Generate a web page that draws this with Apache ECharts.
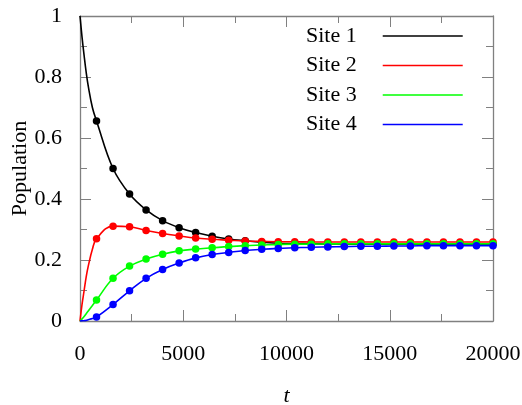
<!DOCTYPE html>
<html>
<head>
<meta charset="utf-8">
<script src="https://cdn.jsdelivr.net/npm/echarts@6/dist/echarts.min.js"></script>
<style>html,body{margin:0;padding:0;background:#fff;}#c{width:522px;height:405px;}</style>
</head>
<body>
<div id="c"></div>
<script>
// Early (unmarked) curve points
const tEarly = [0, 100, 200, 300, 400, 600];
const site1Early = [1, 0.93, 0.87, 0.815, 0.77, 0.70];
const site2Early = [0, 0.055, 0.10, 0.145, 0.18, 0.235];
const site3Early = [0, 0.007, 0.015, 0.024, 0.033, 0.051];
const site4Early = [0, 0.0005, 0.001, 0.002, 0.004, 0.008];

// Marked points
const tMarks = [800, 1600, 2400, 3200, 4000, 4800, 5600, 6400, 7200, 8000, 8800, 9600, 10400,
  11200, 12000, 12800, 13600, 14400, 15200, 16000, 16800, 17600, 18400, 19200, 20000];
const site1Marks = [0.656, 0.500, 0.416, 0.364, 0.329, 0.306, 0.290, 0.278, 0.269, 0.263, 0.258, 0.255, 0.254,
  0.253, 0.253, 0.252, 0.252, 0.252, 0.252, 0.252, 0.252, 0.252, 0.252, 0.252, 0.252];
const site2Marks = [0.270, 0.311, 0.309, 0.297, 0.287, 0.279, 0.272, 0.268, 0.265, 0.262, 0.261, 0.260, 0.260,
  0.259, 0.259, 0.259, 0.259, 0.259, 0.259, 0.259, 0.259, 0.259, 0.259, 0.259, 0.259];
const site3Marks = [0.069, 0.140, 0.180, 0.203, 0.219, 0.230, 0.236, 0.240, 0.244, 0.247, 0.249, 0.251, 0.252,
  0.252, 0.253, 0.253, 0.253, 0.253, 0.253, 0.253, 0.253, 0.253, 0.253, 0.253, 0.253];
const site4Marks = [0.013, 0.054, 0.099, 0.140, 0.169, 0.190, 0.207, 0.218, 0.225, 0.231, 0.235, 0.238, 0.240,
  0.242, 0.243, 0.244, 0.245, 0.245, 0.246, 0.246, 0.247, 0.247, 0.247, 0.247, 0.247];

const names = ['Site 1', 'Site 2', 'Site 3', 'Site 4'];
const colors = ['#000000', '#ff0000', '#00ff00', '#0000ff'];
const xTicks = [0, 5000, 10000, 15000, 20000];
const yTicks = [0, 0.2, 0.4, 0.6, 0.8, 1];

const early = [site1Early, site2Early, site3Early, site4Early];
const marks = [site1Marks, site2Marks, site3Marks, site4Marks];

const FONT = 'Liberation Serif';
const AX = '#808080';

function buildData(e, m) {
  const d = [];
  tEarly.forEach((t, i) => d.push({ value: [t, e[i]], symbol: 'none' }));
  tMarks.forEach((t, i) => d.push({ value: [t, m[i]], symbol: 'circle' }));
  return d;
}

const series = names.map((n, k) => ({
  name: n,
  type: 'line',
  smooth: 0.4,
  symbol: 'none',
  symbolSize: 7.5,
  showAllSymbol: true,
  color: colors[k],
  lineStyle: { width: 1.6, color: colors[k] },
  itemStyle: { color: colors[k] },
  data: buildData(early[k], marks[k]),
  z: 2 + k
}));

const commonTick = { show: true, inside: true, length: 11, lineStyle: { color: AX, width: 1 } };
const commonMinor = { show: true, splitNumber: 2, length: 7, lineStyle: { color: AX, width: 1 } };
const commonLine = { show: true, onZero: false, lineStyle: { color: AX, width: 1.3 } };

const chart = echarts.init(document.getElementById('c'), null, { renderer: 'canvas' });
chart.setOption({
  animation: false,
  backgroundColor: '#ffffff',
  grid: { left: 80, right: 29, top: 16, bottom: 84, containLabel: false, outerBoundsMode: 'none' },
  legend: {
    left: 306,
    top: 25,
    padding: 0,
    orient: 'vertical',
    align: 'right',
    icon: 'rect',
    itemWidth: 80,
    itemHeight: 1.6,
    itemGap: 7.5,
    textStyle: { fontFamily: FONT, fontSize: 22, lineHeight: 22, color: '#000', padding: [0, 21, 0, 0] },
    data: names
  },
  xAxis: [{
    type: 'value', min: xTicks[0], max: xTicks[xTicks.length - 1], interval: xTicks[1] - xTicks[0],
    position: 'bottom',
    axisLine: commonLine, axisTick: commonTick, minorTick: commonMinor,
    splitLine: { show: false },
    axisLabel: { fontFamily: FONT, fontSize: 22, color: '#000', margin: 22, formatter: v => String(v) },
    name: 't', nameLocation: 'middle', nameGap: 64, nameMoveOverlap: false,
    nameTextStyle: { fontFamily: FONT, fontSize: 22, fontStyle: 'italic', color: '#000' }
  }, {
    type: 'value', min: xTicks[0], max: xTicks[xTicks.length - 1], interval: xTicks[1] - xTicks[0],
    position: 'top',
    axisLine: commonLine, axisTick: commonTick, minorTick: commonMinor,
    splitLine: { show: false }, axisLabel: { show: false }
  }],
  yAxis: [{
    type: 'value', min: yTicks[0], max: yTicks[yTicks.length - 1], interval: 0.2,
    position: 'left',
    axisLine: commonLine, axisTick: commonTick, minorTick: commonMinor,
    splitLine: { show: false },
    axisLabel: { fontFamily: FONT, fontSize: 22, color: '#000', margin: 18, formatter: v => String(v) },
    name: 'Population', nameLocation: 'middle', nameGap: 49, nameRotate: 90, nameMoveOverlap: false,
    nameTextStyle: { fontFamily: FONT, fontSize: 22, color: '#000' }
  }, {
    type: 'value', min: yTicks[0], max: yTicks[yTicks.length - 1], interval: 0.2,
    position: 'right',
    axisLine: commonLine, axisTick: commonTick, minorTick: commonMinor,
    splitLine: { show: false }, axisLabel: { show: false }
  }],
  series: series
});
</script>
</body>
</html>
